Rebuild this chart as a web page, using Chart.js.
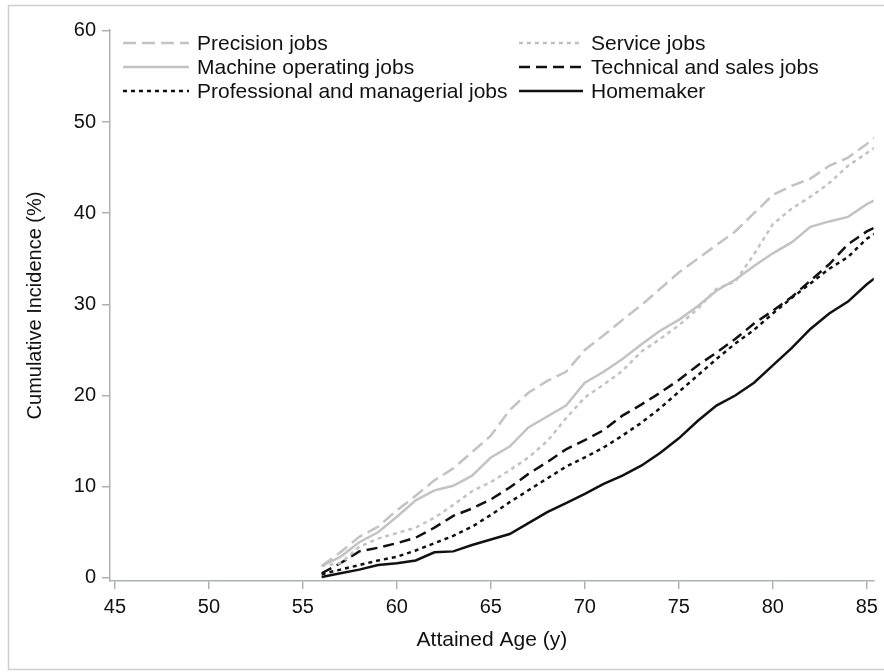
<!DOCTYPE html>
<html>
<head>
<meta charset="utf-8">
<script src="https://cdn.jsdelivr.net/npm/chart.js@4/dist/chart.umd.min.js"></script>
<style>
  html, body { margin: 0; padding: 0; background: #fff; }
  #wrap { width: 884px; height: 672px; position: relative; }
</style>
</head>
<body>
<div id="wrap"><canvas id="incidenceChart" width="884" height="672"></canvas></div>
<script>
// ── data ──
const ages = [56, 57, 58, 59, 60, 61, 62, 63, 64, 65, 66, 67, 68, 69, 70,
              71, 72, 73, 74, 75, 76, 77, 78, 79, 80, 81, 82, 83, 84, 85, 86];

const precisionJobs = [1.3, 2.8, 4.5, 5.6, 7.4, 9.0, 10.7, 12.0, 13.8, 15.6, 18.4, 20.3, 21.6, 22.6, 25.0,
                       26.6, 28.3, 29.9, 31.7, 33.5, 35.0, 36.5, 38.0, 40.0, 42.0, 43.0, 43.8, 45.2, 46.1, 47.6, 49.2];
const serviceJobs = [1.3, 1.6, 3.4, 4.3, 4.9, 5.5, 6.6, 8.0, 9.5, 10.5, 11.8, 13.2, 15.0, 17.5, 19.8,
                     21.2, 22.7, 24.8, 26.2, 27.7, 29.5, 31.7, 32.5, 35.5, 38.8, 40.5, 41.8, 43.3, 45.2, 46.6, 48.0];
const machineJobs = [1.3, 2.3, 3.9, 5.0, 6.7, 8.5, 9.6, 10.1, 11.2, 13.2, 14.4, 16.5, 17.7, 18.9, 21.4,
                     22.6, 24.0, 25.6, 27.1, 28.3, 29.8, 31.5, 32.7, 34.2, 35.6, 36.8, 38.5, 39.1, 39.6, 41.0, 42.0];
const technicalJobs = [0.5, 1.6, 2.9, 3.3, 3.8, 4.4, 5.5, 6.8, 7.6, 8.6, 9.9, 11.4, 12.7, 14.1, 15.1,
                       16.2, 17.8, 19.0, 20.3, 21.7, 23.3, 24.7, 26.2, 27.9, 29.3, 30.8, 32.6, 34.4, 36.6, 38.0, 39.0];
const professionalJobs = [0.4, 0.9, 1.4, 1.9, 2.3, 3.0, 3.8, 4.6, 5.6, 6.9, 8.3, 9.6, 10.9, 12.2, 13.2,
                          14.3, 15.6, 17.0, 18.6, 20.4, 22.2, 24.0, 25.7, 27.2, 29.0, 30.7, 32.3, 33.9, 35.2, 37.2, 38.5];
const homemaker = [0.1, 0.5, 0.9, 1.4, 1.6, 1.9, 2.8, 2.9, 3.6, 4.2, 4.8, 6.0, 7.2, 8.2, 9.2,
                   10.3, 11.2, 12.3, 13.7, 15.3, 17.2, 18.9, 20.0, 21.4, 23.3, 25.2, 27.3, 29.0, 30.3, 32.2, 33.8];

const xTicks = [45, 50, 55, 60, 65, 70, 75, 80, 85];
const yTicks = [0, 10, 20, 30, 40, 50, 60];

const GRAY = '#c3c3c3';
const BLACK = '#111111';
const AXIS = '#aeb2b6';
const SANS = '"Liberation Sans", Arial, sans-serif';

const series = [
    { label: 'Precision jobs', data: precisionJobs, color: GRAY, dash: [13, 6] },
    { label: 'Service jobs', data: serviceJobs, color: GRAY, dash: [4, 4] },
    { label: 'Machine operating jobs', data: machineJobs, color: GRAY, dash: [] },
    { label: 'Technical and sales jobs', data: technicalJobs, color: BLACK, dash: [11, 6] },
    { label: 'Professional and managerial jobs', data: professionalJobs, color: BLACK, dash: [4, 4] },
    { label: 'Homemaker', data: homemaker, color: BLACK, dash: [] },
];

// legend drawn in two columns, like the original
const legendPlugin = {
    id: 'twoColLegend',
    afterDraw(chart) {
        const ctx = chart.ctx;
        const cols = [{ x0: 123, x1: 189, tx: 197 }, { x0: 519, x1: 583, tx: 591 }];
        const rows = [43, 67, 91];
        ctx.save();
        chart.data.datasets.forEach((ds, i) => {
            const c = cols[i % 2];
            const y = rows[Math.floor(i / 2)];
            ctx.strokeStyle = ds.borderColor;
            ctx.lineWidth = 2.5;
            ctx.setLineDash(ds.borderDash);
            ctx.beginPath();
            ctx.moveTo(c.x0, y);
            ctx.lineTo(c.x1, y);
            ctx.stroke();
            ctx.setLineDash([]);
            ctx.fillStyle = '#111';
            ctx.font = '21px ' + SANS;
            ctx.textBaseline = 'middle';
            ctx.textAlign = 'left';
            ctx.fillText(ds.label, c.tx, y + 1);
        });
        ctx.restore();
    }
};

// thin frame around the figure (open on the right, as in the picture)
const framePlugin = {
    id: 'frame',
    beforeDraw(chart) {
        const ctx = chart.ctx;
        ctx.save();
        ctx.fillStyle = '#fff';
        ctx.fillRect(0, 0, chart.width, chart.height);
        ctx.strokeStyle = '#cfcfcf';
        ctx.lineWidth = 1.5;
        ctx.beginPath();
        ctx.moveTo(chart.width + 2, 5.5);
        ctx.lineTo(8.5, 5.5);
        ctx.lineTo(8.5, 669.5);
        ctx.lineTo(chart.width + 2, 669.5);
        ctx.stroke();
        ctx.restore();
    }
};

const ctx = document.getElementById('incidenceChart');
new Chart(ctx.getContext('2d'), {
    type: 'line',
    data: {
        datasets: series.map(s => ({
            label: s.label,
            data: ages.map((a, i) => ({ x: a, y: s.data[i] })),
            borderColor: s.color,
            borderDash: s.dash,
            borderWidth: 2.5,
            pointRadius: 0,
            tension: 0,
            fill: false,
        })),
    },
    options: {
        responsive: false,
        animation: false,
        events: [],
        layout: { padding: { left: 0, top: 30, right: 7, bottom: 0 } },
        plugins: {
            legend: { display: false },
            tooltip: { enabled: false },
        },
        scales: {
            x: {
                type: 'linear',
                min: 44.74,
                max: 85.37,
                afterBuildTicks: (scale) => { scale.ticks = xTicks.map(v => ({ value: v })); },
                afterFit: (scale) => { scale.height = 91; },
                border: { display: true, color: AXIS, width: 1.5 },
                grid: { display: true, drawOnChartArea: false, drawTicks: true, tickLength: 8, color: AXIS, lineWidth: 1.5 },
                ticks: {
                    autoSkip: false,
                    maxRotation: 0,
                    padding: 6,
                    color: '#111',
                    font: { family: SANS, size: 20 },
                },
                title: {
                    display: true,
                    text: 'Attained Age (y)',
                    color: '#111',
                    font: { family: SANS, size: 21 },
                    padding: { top: 0, bottom: 19 },
                },
            },
            y: {
                min: -0.35,
                max: 60.1,
                afterBuildTicks: (scale) => { scale.ticks = yTicks.map(v => ({ value: v })); },
                afterFit: (scale) => { scale.width = 110; },
                border: { display: true, color: AXIS, width: 1.5 },
                grid: { display: true, drawOnChartArea: false, drawTicks: true, tickLength: 8, color: AXIS, lineWidth: 1.5 },
                ticks: {
                    autoSkip: false,
                    padding: 6,
                    color: '#111',
                    font: { family: SANS, size: 20 },
                },
                title: {
                    display: true,
                    text: 'Cumulative Incidence (%)',
                    color: '#111',
                    font: { family: SANS, size: 20 },
                    padding: { top: 23, bottom: 0 },
                },
            },
        },
    },
    plugins: [framePlugin, legendPlugin],
});
</script>
</body>
</html>
